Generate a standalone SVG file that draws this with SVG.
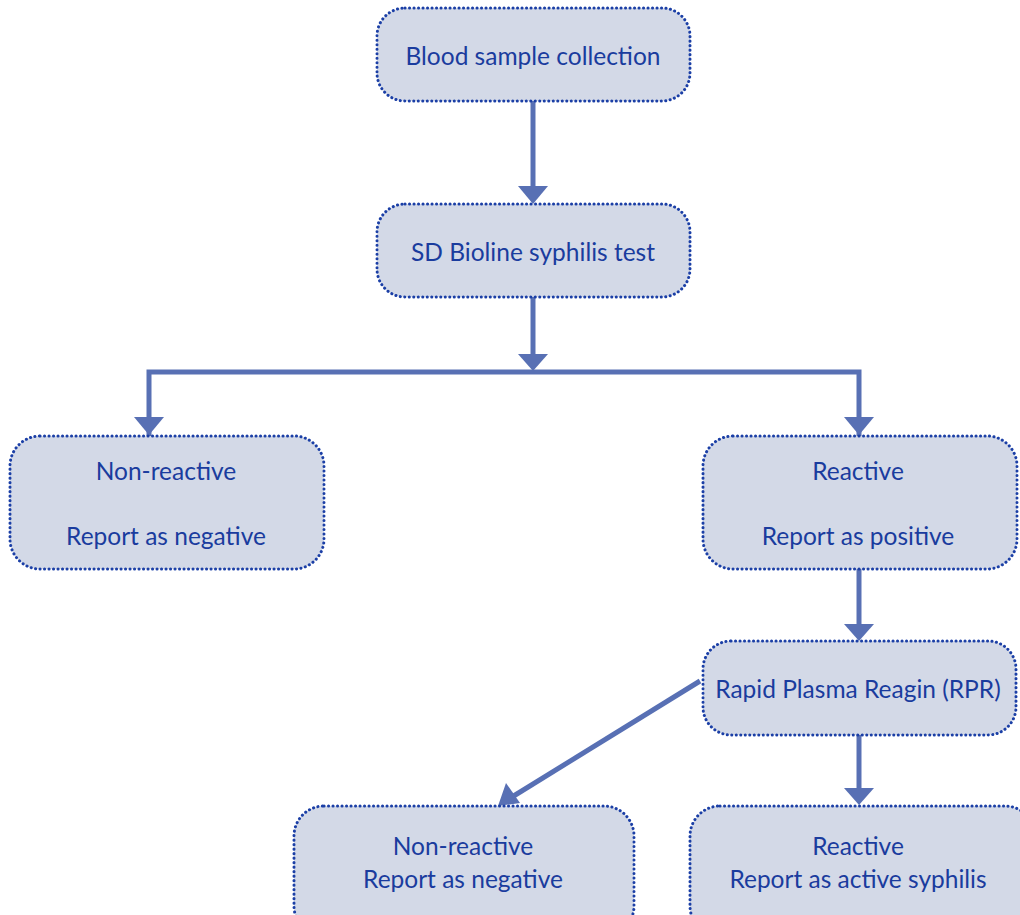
<svg xmlns="http://www.w3.org/2000/svg" width="1020" height="915" viewBox="0 0 1020 915">
<defs>
<style>
.box{fill:#D3D9E7;stroke:#1B3FA6;stroke-width:3;stroke-dasharray:0.1 4.4;stroke-linecap:round}
.lbl{font-family:Lato,"Noto Sans",sans-serif;font-size:24.5px;fill:#1A3C9E;text-anchor:middle}
.ln{stroke:#5870B4;stroke-width:5;fill:none}
.ah{fill:#5870B4}
</style>
</defs>
<rect width="1020" height="915" fill="#fff"/>
<g id="connectors">
<line class="ln" x1="533" y1="101" x2="533" y2="188"/>
<polygon class="ah" points="518,186 548,186 533,204"/>
<line class="ln" x1="533" y1="297" x2="533" y2="356"/>
<polygon class="ah" points="518,354 548,354 533,371"/>
<polyline class="ln" points="149,436 149,372 859,372 859,436"/>
<polygon class="ah" points="134,417 164,417 149,435"/>
<polygon class="ah" points="844,417 874,417 859,435"/>
<line class="ln" x1="859" y1="569" x2="859" y2="626"/>
<polygon class="ah" points="844,624 874,624 859,641"/>
<line class="ln" x1="859" y1="735" x2="859" y2="790"/>
<polygon class="ah" points="844,788 874,788 859,805"/>
<line class="ln" x1="700" y1="681" x2="512" y2="797"/>
<polygon class="ah" points="498,806 506,783 520,803"/>
</g>
<g id="n1"><rect class="box" x="377" y="8" width="313" height="93" rx="28"/><text class="lbl" x="533" y="65">Blood sample collection</text></g>
<g id="n2"><rect class="box" x="377" y="204" width="313" height="93" rx="28"/><text class="lbl" x="533" y="261">SD Bioline syphilis test</text></g>
<g id="n3"><rect class="box" x="10" y="436" width="314" height="133" rx="30"/><text class="lbl" x="166" y="480">Non-reactive</text><text class="lbl" x="166" y="545">Report as negative</text></g>
<g id="n4"><rect class="box" x="703" y="436" width="314" height="133" rx="30"/><text class="lbl" x="858" y="480">Reactive</text><text class="lbl" x="858" y="545">Report as positive</text></g>
<g id="n5"><rect class="box" x="703" y="641" width="313" height="94" rx="28"/><text class="lbl" x="858" y="698">Rapid Plasma Reagin (RPR)</text></g>
<g id="n6"><rect class="box" x="294" y="806" width="340" height="130" rx="30"/><text class="lbl" x="463" y="855">Non-reactive</text><text class="lbl" x="463" y="888">Report as negative</text></g>
<g id="n7"><rect class="box" x="690" y="806" width="345" height="130" rx="30"/><text class="lbl" x="858" y="855">Reactive</text><text class="lbl" x="858" y="888">Report as active syphilis</text></g>
</svg>
